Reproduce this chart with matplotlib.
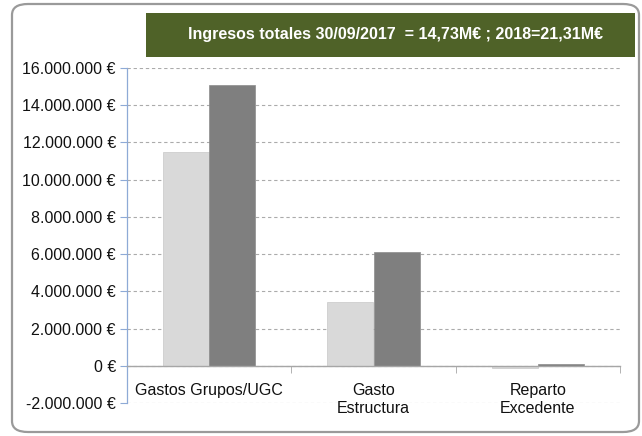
import matplotlib
matplotlib.use("Agg")
import matplotlib.pyplot as plt
from matplotlib.patches import FancyBboxPatch, Rectangle
from matplotlib.ticker import FuncFormatter

categories = ["Gastos Grupos/UGC", "Gasto\nEstructura", "Reparto\nExcedente"]
valores_2017 = [11_480_000, 3_410_000, -100_000]
valores_2018 = [15_100_000, 6_120_000, 80_000]
titulo = "Ingresos totales 30/09/2017  = 14,73M\u20ac ; 2018=21,31M\u20ac"

plt.rcParams["font.family"] = ["Liberation Sans", "DejaVu Sans"]

W, H = 642, 436
fig = plt.figure(figsize=(W / 100, H / 100), dpi=100, facecolor="white")

# outer rounded frame
frame = FancyBboxPatch((12 / W, 4 / H), (639 - 12) / W, (432 - 4) / H,
                       boxstyle="round,pad=0,rounding_size=0.025",
                       transform=fig.transFigure, facecolor="none",
                       edgecolor="#9a9a9a", linewidth=1.6, zorder=-1)
fig.patches.append(frame)

# green banner
fig.patches.append(Rectangle((146 / W, 1 - 57 / H), (635 - 146) / W, 44 / H,
                             transform=fig.transFigure, facecolor="#4f6228",
                             edgecolor="none", zorder=-1))
fig.text(396 / W, 1 - 34 / H, titulo, color="white",
         fontsize=11.5, fontweight="bold", ha="center", va="center")

left, right = 127 / W, 620 / W
bottom, top = 1 - 403 / H, 1 - 68 / H
ax = fig.add_axes([left, bottom, right - left, top - bottom])
ax.patch.set_alpha(0)

x = range(len(categories))
w = 0.28
ax.bar([i - w / 2 for i in x], valores_2017, w, color="#d9d9d9",
       edgecolor="#c8c8c8", linewidth=0.5, zorder=3)
ax.bar([i + w / 2 for i in x], valores_2018, w, color="#7f7f7f",
       edgecolor="#8c8c8c", linewidth=0.5, zorder=3)

ax.set_xlim(-0.5, 2.5)
ax.set_ylim(-2_000_000, 16_000_000)
ax.set_yticks(range(-2_000_000, 16_000_001, 2_000_000))
ax.yaxis.set_major_formatter(FuncFormatter(
    lambda v, _: f"{int(v):,} \u20ac".replace(",", ".")))
ax.tick_params(axis="y", length=5, color="#8eaad6", labelsize=11.5,
               labelcolor="#111111", pad=3)

ax.grid(axis="y", color="#ababab", linestyle=(0, (3, 2.5)), linewidth=0.8,
        zorder=1)
ax.set_axisbelow(True)

for s in ("top", "right"):
    ax.spines[s].set_visible(False)
ax.spines["left"].set_color("#8eaad6")
ax.spines["left"].set_linewidth(0.9)
ax.spines["bottom"].set_position(("data", 0))
ax.spines["bottom"].set_color("#a6a6a6")
ax.spines["bottom"].set_linewidth(1.0)
ax.spines["bottom"].set_zorder(4)

ax.set_xticks(list(x))
ax.set_xticklabels(categories, fontsize=11.5, color="#111111", linespacing=1.25)
ax.tick_params(axis="x", which="major", length=0, pad=12.5)
ax.set_xticks([0.5, 1.5, 2.5], minor=True)
ax.tick_params(axis="x", which="minor", length=5, color="#a6a6a6",
               direction="out")

fig.savefig("out.png", dpi=100)
